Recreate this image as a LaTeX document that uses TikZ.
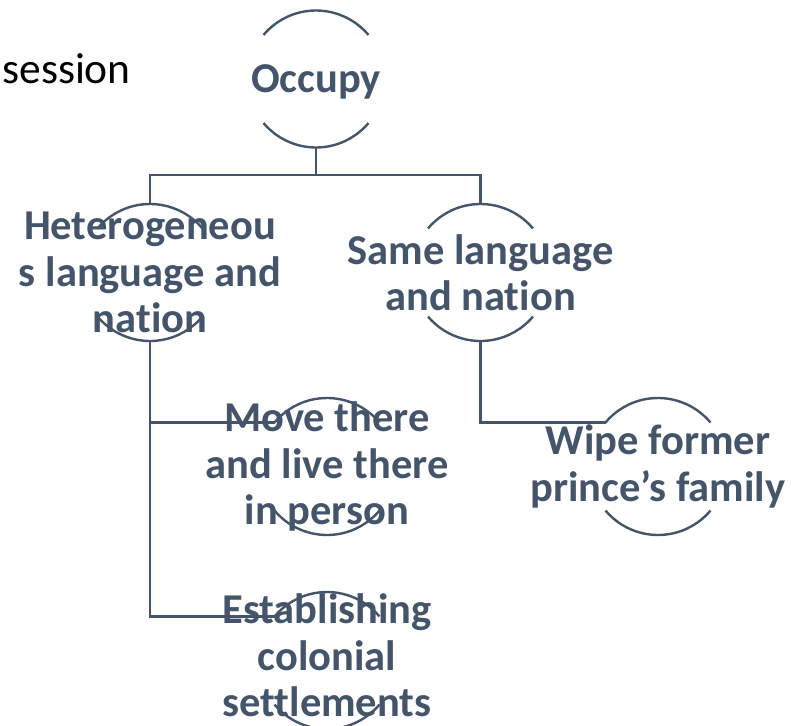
\documentclass[tikz,border=0pt]{standalone}
\usepackage{fontspec}
\setmainfont{Carlito}[Ligatures=NoCommon]
\usepackage{xcolor}
\usetikzlibrary{positioning,calc}
\definecolor{slate}{HTML}{44546A}

\begin{document}
\begin{tikzpicture}[
    x=1pt, y=1pt,
    topic/.style={circle, minimum size=137pt, inner sep=0pt, outer sep=0pt},
    lbl/.style={align=center, text=slate, inner sep=0pt, font=\fontsize{42.5}{46.5}\selectfont\bfseries},
    rim/.style={draw=slate, line width=2.4pt},
    link/.style={draw=slate, line width=2.4pt}
]
\useasboundingbox (0,0) rectangle (791,-725);

\node[anchor=base east, inner sep=0pt, font=\fontsize{43.5}{50}\selectfont] (title) at (131,-83) {session};

\node[topic, label={[lbl, yshift=-3pt]center:Occupy}] (occupy) at (316,-79) {};
\node[topic, label={[lbl]center:Heterogeneou\\s language and\\nation}] (hetero) at (150,-272.5) {};
\node[topic, label={[lbl]center:Same language\\and nation}] (same) at (480.5,-272.5) {};
\node[topic, label={[lbl]center:Move there\\and live there\\in person}] (move) at (327,-466.5) {};
\node[topic, label={[lbl]center:Wipe former\\prince’s family}] (wipe) at (658,-466.5) {};
\node[topic, label={[lbl, yshift=5pt]center:Establishing\\colonial\\settlements}] (settle) at (327,-660.5) {};

% half rims of each circle
\foreach \n in {occupy,hetero,same,move,wipe,settle} {
    \draw[rim] (\n.40) arc[start angle=40, end angle=140, radius=68.5pt];
    \draw[rim] (\n.220) arc[start angle=220, end angle=320, radius=68.5pt];
}

\draw[link] (hetero.north) -- ++(0,29) coordinate (bus) -| (same.north);
\draw[link] (occupy.south) -- (occupy.south |- bus);
\draw[link] (hetero.south) |- (move.140);
\draw[link] (hetero.south) |- (settle.140);
\draw[link] (same.south) |- (wipe.140);
\end{tikzpicture}
\end{document}
